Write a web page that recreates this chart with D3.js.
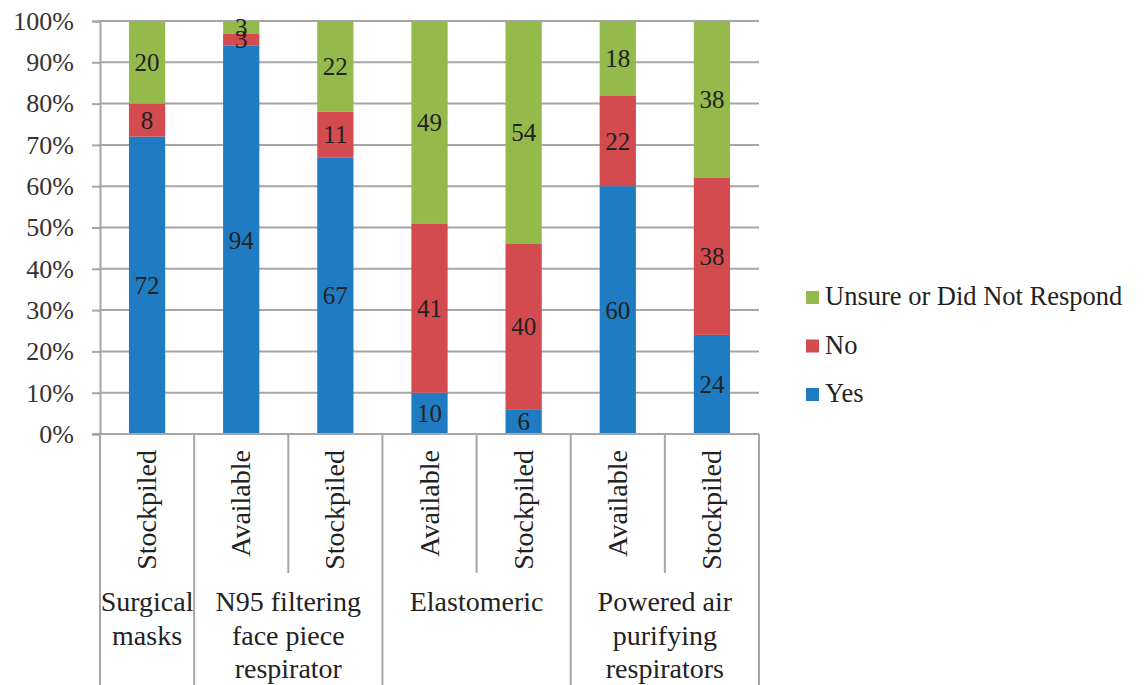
<!DOCTYPE html>
<html>
<head>
<meta charset="utf-8">
<script src="https://cdn.jsdelivr.net/npm/d3@7"></script>
<style>
  body { margin: 0; background: #fff; }
</style>
</head>
<body>
<div id="chart"></div>
<script>
// columns (left to right) and their group
const columns = ["Stockpiled", "Available", "Stockpiled", "Available", "Stockpiled", "Available", "Stockpiled"];
const groups = [
  {lines: ["Surgical", "masks"], span: 1},
  {lines: ["N95 filtering", "face piece", "respirator"], span: 2},
  {lines: ["Elastomeric"], span: 2},
  {lines: ["Powered air", "purifying", "respirators"], span: 2}
];
const seriesNames = ["Yes", "No", "Unsure or Did Not Respond"];
const yesVals = [72, 94, 67, 10, 6, 60, 24];
const noVals = [8, 3, 11, 41, 40, 22, 38];
const unsureVals = [20, 3, 22, 49, 54, 18, 38];
const yTicks = [0, 10, 20, 30, 40, 50, 60, 70, 80, 90, 100];
const colors = ["#1f7cc2", "#d34a4f", "#93ba4a"];

const FONT = "'Liberation Serif', 'Times New Roman', 'DejaVu Serif', serif";
const W = 1146, H = 685;
const plot = {left: 100, right: 759, top: 21, bottom: 434};

const rows = columns.map((c, i) => ({
  idx: i,
  "Yes": yesVals[i],
  "No": noVals[i],
  "Unsure or Did Not Respond": unsureVals[i]
}));

const svg = d3.select("#chart").append("svg")
  .attr("width", W)
  .attr("height", H)
  .style("font-family", FONT);

const x = d3.scaleBand()
  .domain(rows.map(d => d.idx))
  .range([plot.left, plot.right])
  .paddingInner(0.615)
  .paddingOuter(0.3075);
const colX = d3.scaleBand()
  .domain(rows.map(d => d.idx))
  .range([plot.left, plot.right]);
const y = d3.scaleLinear()
  .domain([0, 100])
  .range([plot.bottom, plot.top]);
const color = d3.scaleOrdinal().domain(seriesNames).range(colors);

// gridlines
svg.append("g")
  .selectAll("line")
  .data(yTicks)
  .join("line")
  .attr("x1", plot.left)
  .attr("x2", plot.right)
  .attr("y1", d => y(d))
  .attr("y2", d => y(d))
  .attr("stroke", "#a6a6a6")
  .attr("stroke-width", 2);

// y axis
const yAxis = svg.append("g")
  .attr("transform", `translate(${plot.left},0)`)
  .call(d3.axisLeft(y).tickValues(yTicks).tickSize(8).tickPadding(18).tickFormat(d => d + "%"));
yAxis.attr("font-family", null);
yAxis.select(".domain").attr("stroke", "#a6a6a6").attr("stroke-width", 2);
yAxis.selectAll(".tick line").attr("stroke", "#a6a6a6").attr("stroke-width", 2);
yAxis.selectAll(".tick text")
  .style("font-family", FONT)
  .attr("font-size", "26px")
  .attr("fill", "#333");

// bars
const stacked = d3.stack().keys(seriesNames)(rows);
const layer = svg.append("g")
  .selectAll("g")
  .data(stacked)
  .join("g")
  .attr("fill", d => color(d.key));
layer.selectAll("rect")
  .data(d => d)
  .join("rect")
  .attr("x", d => x(d.data.idx))
  .attr("width", x.bandwidth())
  .attr("y", d => y(d[1]))
  .attr("height", d => y(d[0]) - y(d[1]));

// value labels
svg.append("g")
  .selectAll("g")
  .data(stacked)
  .join("g")
  .selectAll("text")
  .data(d => d.map(p => ({p, key: d.key})))
  .join("text")
  .attr("x", d => x(d.p.data.idx) + x.bandwidth() / 2)
  .attr("y", d => y((d.p[0] + d.p[1]) / 2))
  .attr("dy", "0.35em")
  .attr("text-anchor", "middle")
  .attr("font-size", "25px")
  .attr("fill", "#222")
  .text(d => d.p.data[d.key]);

// category axis line
svg.append("line")
  .attr("x1", plot.left - 8)
  .attr("x2", plot.right)
  .attr("y1", plot.bottom)
  .attr("y2", plot.bottom)
  .attr("stroke", "#a6a6a6")
  .attr("stroke-width", 2);

// category grid below axis
const groupStarts = [];
let acc = 0;
groups.forEach(g => { groupStarts.push(acc); acc += g.span; });
const bounds = d3.range(columns.length + 1);
svg.append("g")
  .selectAll("line")
  .data(bounds)
  .join("line")
  .attr("x1", i => plot.left + i * colX.step())
  .attr("x2", i => plot.left + i * colX.step())
  .attr("y1", plot.bottom)
  .attr("y2", i => (groupStarts.includes(i) || i === columns.length) ? H : 573)
  .attr("stroke", "#a6a6a6")
  .attr("stroke-width", 2);

// rotated column labels
svg.append("g")
  .selectAll("text")
  .data(columns)
  .join("text")
  .attr("transform", (d, i) => `translate(${colX(i) + colX.bandwidth() / 2 + 9},450) rotate(-90)`)
  .attr("text-anchor", "end")
  .attr("font-size", "28px")
  .attr("fill", "#222")
  .text(d => d);

// group labels
groups.forEach((g, gi) => {
  const x0 = plot.left + groupStarts[gi] * colX.step();
  const cx = x0 + g.span * colX.step() / 2;
  const t = svg.append("text")
    .attr("text-anchor", "middle")
    .attr("font-size", "28px")
    .attr("fill", "#222");
  g.lines.forEach((ln, li) => {
    t.append("tspan")
      .attr("x", cx)
      .attr("y", 611 + li * 33.5)
      .text(ln);
  });
});

// legend
const legendOrder = seriesNames.slice().reverse();
const legend = svg.append("g")
  .selectAll("g")
  .data(legendOrder)
  .join("g")
  .attr("transform", (d, i) => `translate(806,${305 + i * 48.5})`);
legend.append("rect")
  .attr("x", 0)
  .attr("y", -14)
  .attr("width", 13)
  .attr("height", 13)
  .attr("fill", d => color(d));
legend.append("text")
  .attr("x", 19)
  .attr("y", 0)
  .attr("font-size", "26.5px")
  .attr("fill", "#222")
  .text(d => d);
</script>
</body>
</html>
